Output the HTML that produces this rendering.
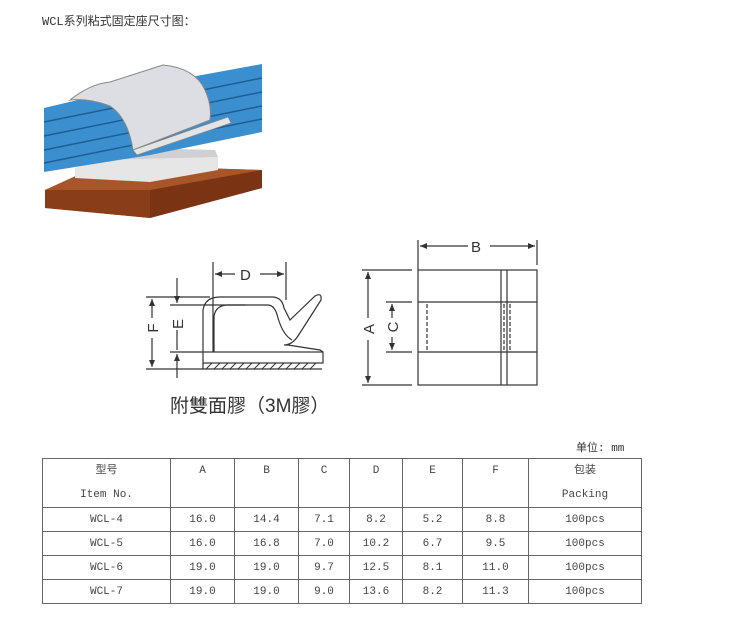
<!DOCTYPE html>
<html><head><meta charset="utf-8"><style>
body{margin:0;width:750px;height:625px;background:#fff;position:relative;overflow:hidden;font-family:"Liberation Mono","Noto Sans CJK SC",monospace;}
.t{position:absolute;left:42px;top:12px;font-size:12px;color:#333;}
table{position:absolute;left:42px;top:458px;border-collapse:collapse;font-size:11px;color:#444;}
td{border:1px solid #666;text-align:center;height:23px;padding:0;}
.u{position:absolute;left:576px;top:439px;font-size:11px;color:#333;}
</style></head><body>
<div class="t">WCL系列粘式固定座尺寸图：</div>
<svg width="750" height="625" style="position:absolute;left:0;top:0">
<!-- photo -->
<polygon points="45,190 100,165 262,170 262,188 150,218 45,208" fill="#9b4a20"/>
<polygon points="45,190 100,165 262,170 150,190" fill="#a9552a"/>
<polygon points="45,190 150,190 150,218 45,208" fill="#8a3e18"/>
<polygon points="150,190 262,170 262,188 150,218" fill="#7a3414"/>
<polygon points="75,168 100,160 218,157 218,170 150,182 75,178" fill="#e6e6e6"/>
<polygon points="100,160 218,157 215,150 130,148" fill="#cfcfd4"/>
<polygon points="44,108 120,90 262,64 262,132 150,155 44,172" fill="#3c8fcf"/>
<g stroke="#1d5e93" stroke-width="1.5">
<line x1="44" y1="122" x2="262" y2="78"/><line x1="44" y1="136" x2="262" y2="92"/><line x1="44" y1="150" x2="262" y2="106"/><line x1="44" y1="163" x2="262" y2="119"/>
</g>
<path d="M70,100 Q90,84 110,82 L163,65 Q195,68 205,90 Q212,105 210,120 L133,150 Q128,118 110,106 Q90,98 70,100Z" fill="#dcdee3" stroke="#888" stroke-width="1"/>
<path d="M133,150 L228,117 L231,123 L137,155Z" fill="#e4e4e4" stroke="#888" stroke-width="0.7"/>
<!-- B dim -->
<g stroke="#333" fill="none" stroke-width="1.2">
<line x1="418" y1="240" x2="418" y2="270"/><line x1="537" y1="240" x2="537" y2="265"/>
<line x1="420" y1="246" x2="468" y2="246"/><line x1="490" y1="246" x2="535" y2="246"/>
<rect x="418" y="270" width="119" height="115"/>
<line x1="418" y1="302" x2="537" y2="302"/><line x1="418" y1="352" x2="537" y2="352"/>
<line x1="501" y1="270" x2="501" y2="385"/><line x1="507" y1="270" x2="507" y2="385"/>
<line x1="427" y1="304" x2="427" y2="350" stroke-dasharray="4,2"/>
<line x1="504" y1="304" x2="504" y2="350" stroke-dasharray="4,2"/>
<line x1="510" y1="304" x2="510" y2="350" stroke-dasharray="4,2"/>
<line x1="362" y1="270" x2="412" y2="270"/><line x1="362" y1="385" x2="412" y2="385"/>
<line x1="368" y1="272" x2="368" y2="318"/><line x1="368" y1="340" x2="368" y2="383"/>
<line x1="386" y1="302" x2="412" y2="302"/><line x1="386" y1="352" x2="412" y2="352"/>
<line x1="392" y1="304" x2="392" y2="318"/><line x1="392" y1="337" x2="392" y2="350"/>
<!-- left profile -->
<rect x="203" y="352" width="120" height="11"/>
<line x1="203" y1="369" x2="322" y2="369"/><line x1="203" y1="363" x2="203" y2="369"/>
<path d="M203,352 L203,310 Q205,297 220,297 L272,297 Q282,297 284,308 L290,320 L315,296 Q322,292 321,300 L298,336 Q292,345 284,345 L288,345 L320,350 L323,352"/>
<path d="M214,352 L214,316 Q216,305 228,305 L268,305 Q275,305 278,318 Q283,335 292,340"/>
<line x1="213" y1="262" x2="213" y2="352"/><line x1="286" y1="262" x2="286" y2="300"/>
<line x1="215" y1="274" x2="235" y2="274"/><line x1="260" y1="274" x2="284" y2="274"/>
<line x1="146" y1="297" x2="210" y2="297"/><line x1="146" y1="369" x2="203" y2="369"/>
<line x1="170" y1="305" x2="245" y2="305"/><line x1="170" y1="352" x2="203" y2="352"/>
<line x1="152" y1="299" x2="152" y2="318"/><line x1="152" y1="338" x2="152" y2="367"/>
<line x1="177" y1="278" x2="177" y2="303"/><line x1="177" y1="330" x2="177" y2="350"/>
<line x1="177" y1="354" x2="177" y2="378"/>
</g>
<g stroke="#333" stroke-width="1">
<line x1="206" y1="369" x2="212" y2="363"/><line x1="214" y1="369" x2="220" y2="363"/><line x1="222" y1="369" x2="228" y2="363"/><line x1="230" y1="369" x2="236" y2="363"/><line x1="238" y1="369" x2="244" y2="363"/><line x1="246" y1="369" x2="252" y2="363"/><line x1="254" y1="369" x2="260" y2="363"/><line x1="262" y1="369" x2="268" y2="363"/><line x1="270" y1="369" x2="276" y2="363"/><line x1="278" y1="369" x2="284" y2="363"/><line x1="286" y1="369" x2="292" y2="363"/><line x1="294" y1="369" x2="300" y2="363"/><line x1="302" y1="369" x2="308" y2="363"/><line x1="310" y1="369" x2="316" y2="363"/>
</g>
<g fill="#333">
<polygon points="420,246 427,243 427,249"/><polygon points="535,246 528,243 528,249"/>
<polygon points="368,272 365,279 371,279"/><polygon points="368,383 365,376 371,376"/>
<polygon points="392,304 389,311 395,311"/><polygon points="392,350 389,343 395,343"/>
<polygon points="215,274 222,271 222,277"/><polygon points="284,274 277,271 277,277"/>
<polygon points="152,299 149,306 155,306"/><polygon points="152,367 149,360 155,360"/>
<polygon points="177,303 174,296 180,296"/><polygon points="177,354 174,361 180,361"/>
</g>
<g font-family="Liberation Sans,sans-serif" font-size="15" fill="#333">
<text x="471" y="252">B</text><text x="240" y="280">D</text>
<text transform="translate(374,329) rotate(-90)" text-anchor="middle">A</text>
<text transform="translate(398,327) rotate(-90)" text-anchor="middle">C</text>
<text transform="translate(158,328) rotate(-90)" text-anchor="middle">F</text>
<text transform="translate(183,324) rotate(-90)" text-anchor="middle">E</text>
</g>
<text x="170" y="412" font-family="Liberation Sans,'Noto Sans CJK TC',sans-serif" font-size="19" fill="#333">附雙面膠（3M膠）</text>
</svg>
<div class="u">单位: mm</div>
<table>
<tr><td style="width:127px;height:46px;line-height:24px">型号<br>Item No.</td><td style="width:63px;vertical-align:top;padding-top:6px">A</td><td style="width:63px;vertical-align:top;padding-top:6px">B</td><td style="width:50px;vertical-align:top;padding-top:6px">C</td><td style="width:52px;vertical-align:top;padding-top:6px">D</td><td style="width:59px;vertical-align:top;padding-top:6px">E</td><td style="width:65px;vertical-align:top;padding-top:6px">F</td><td style="width:112px;line-height:24px">包装<br>Packing</td></tr>
<tr><td>WCL-4</td><td>16.0</td><td>14.4</td><td>7.1</td><td>8.2</td><td>5.2</td><td>8.8</td><td>100pcs</td></tr>
<tr><td>WCL-5</td><td>16.0</td><td>16.8</td><td>7.0</td><td>10.2</td><td>6.7</td><td>9.5</td><td>100pcs</td></tr>
<tr><td>WCL-6</td><td>19.0</td><td>19.0</td><td>9.7</td><td>12.5</td><td>8.1</td><td>11.0</td><td>100pcs</td></tr>
<tr><td>WCL-7</td><td>19.0</td><td>19.0</td><td>9.0</td><td>13.6</td><td>8.2</td><td>11.3</td><td>100pcs</td></tr>
</table>
</body></html>
